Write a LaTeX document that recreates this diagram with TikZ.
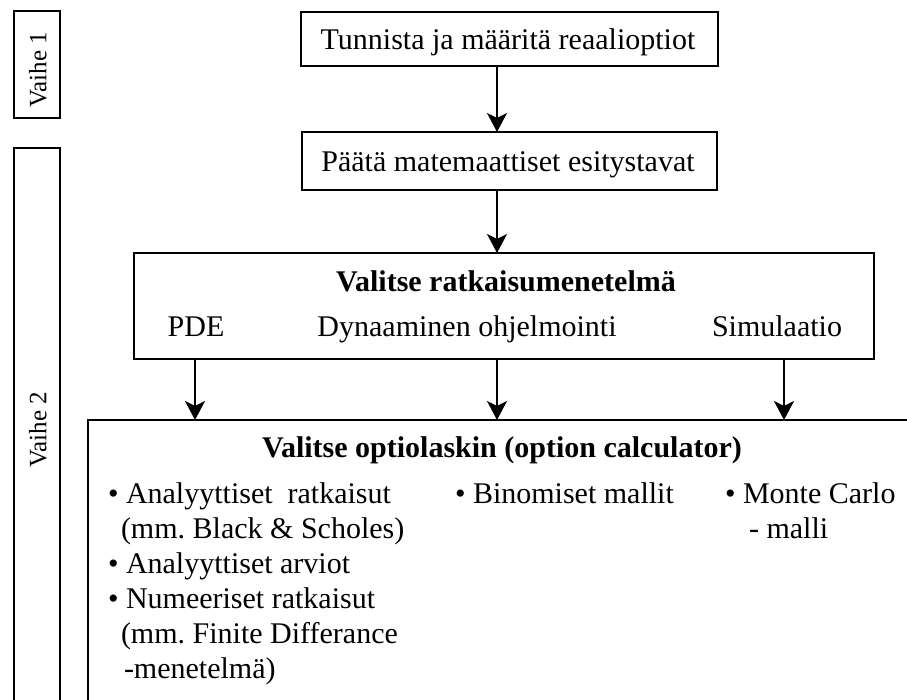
\documentclass[tikz,border=0pt]{standalone}
\usepackage{fontspec}
\setmainfont{Liberation Serif}
\usetikzlibrary{arrows.meta}
\frenchspacing
\begin{document}
\begin{tikzpicture}[x=1pt,y=-1pt,
  frame/.style={draw, line width=2pt, inner sep=0pt, outer sep=0pt},
  txt/.style={inner sep=0pt, outer sep=0pt, anchor=base, font=\fontsize{30}{36}\selectfont},
  itm/.style={txt, anchor=base west},
  head/.style={txt, font=\fontsize{30}{36}\selectfont\bfseries},
  phase/.style={inner sep=0pt, outer sep=0pt, rotate=90, font=\fontsize{25}{30}\selectfont},
  arr/.style={line width=2pt, -{Stealth[length=19pt,width=20pt,inset=5pt]}}]
\useasboundingbox (0,0) rectangle (907,700);
\clip (0,0) rectangle (907,700);

% phase labels on the left
\node[frame, minimum width=46pt, minimum height=107pt] (v1) at (37,64.5) {};
\node[phase] (v1t) at (38,70) {Vaihe 1};
\node[frame, minimum width=46pt, minimum height=568pt] (v2) at (37,432) {};
\node[phase] (v2t) at (38,430) {Vaihe 2};

% process boxes
\node[frame, minimum width=417pt, minimum height=54pt] (b1) at (509.5,39) {};
\node[txt] (t1) at (508,50) {Tunnista ja määritä reaalioptiot};

\node[frame, minimum width=415pt, minimum height=58pt] (b2) at (509.5,161) {};
\node[txt] (t2) at (508,172) {Päätä matemaattiset esitystavat};

\node[frame, minimum width=740pt, minimum height=106pt] (b3) at (504,306) {};
\node[head] (t3) at (506,292) {Valitse ratkaisumenetelmä};
\node[txt] (pde) at (196,337) {PDE};
\node[txt] (dyn) at (467,337) {Dynaaminen ohjelmointi};
\node[txt] (sim) at (777,337) {Simulaatio};

\node[frame, minimum width=837pt, minimum height=300pt] (b4) at (506.5,570) {};
\node[head] (t4) at (502,457) {Valitse optiolaskin (option calculator)};

% calculator lists
\node[itm] (l1) at (108,503) {• Analyyttiset\ \ ratkaisut};
\node[itm] (l2) at (121,538) {(mm. Black \& Scholes)};
\node[itm] (l3) at (108,573) {• Analyyttiset arviot};
\node[itm] (l4) at (108,608) {• Numeeriset ratkaisut};
\node[itm] (l5) at (121,643) {(mm. Finite Differance};
\node[itm] (l6) at (124,678) {-menetelmä)};
\node[itm] (m1) at (455,503) {• Binomiset mallit};
\node[itm] (r1) at (725,503) {• Monte Carlo};
\node[itm] (r2) at (749,538) {- malli};

% connectors
\draw[arr] ([xshift=-12.5pt]b1.south) -- ([xshift=-12.5pt]b2.north);
\draw[arr] ([xshift=-12.5pt]b2.south) -- ([xshift=-7pt]b3.north);
\draw[arr] ([xshift=-309pt]b3.south) -- ([xshift=-309pt]b3.south |- b4.north);
\draw[arr] ([xshift=-7pt]b3.south) -- ([xshift=-7pt]b3.south |- b4.north);
\draw[arr] ([xshift=280pt]b3.south) -- ([xshift=280pt]b3.south |- b4.north);
\end{tikzpicture}
\end{document}
